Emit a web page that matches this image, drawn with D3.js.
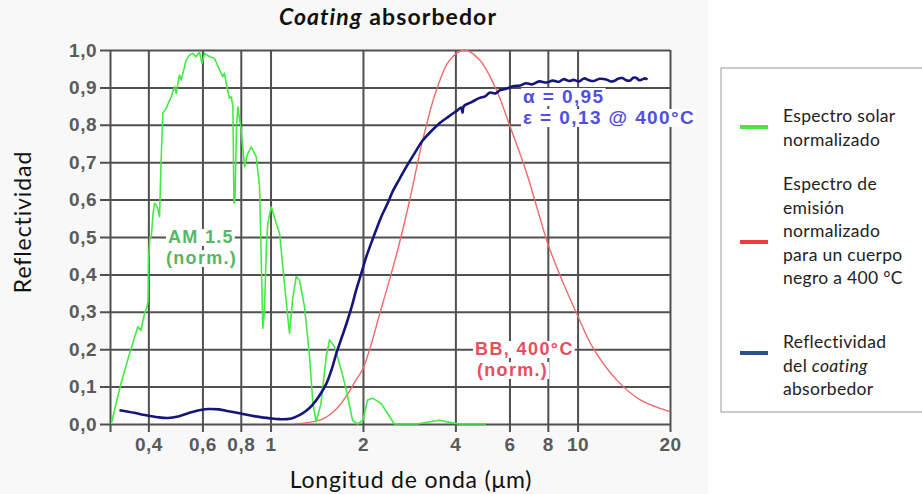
<!DOCTYPE html>
<html><head><meta charset="utf-8">
<script src="https://cdn.jsdelivr.net/npm/d3@7"></script>
<style>
body{margin:0;background:#fff;}
svg{display:block;}
</style></head>
<body>
<svg id="chart" width="922" height="494"></svg>
<script>
// ---- data ----
const solarSpectrum = [
 [0.303,0],[0.315,0.06],[0.326,0.109],[0.345,0.18],[0.360,0.23],[0.370,0.26],[0.378,0.25],[0.389,0.296],[0.395,0.31],[0.399,0.327],
 [0.401,0.45],[0.405,0.50],[0.409,0.50],[0.414,0.56],[0.419,0.59],[0.425,0.585],[0.430,0.572],[0.435,0.554],[0.440,0.70],[0.446,0.831],
 [0.457,0.844],[0.466,0.86],[0.475,0.875],[0.481,0.89],[0.487,0.902],[0.493,0.884],[0.505,0.933],[0.512,0.92],[0.531,0.973],[0.545,0.987],
 [0.558,0.991],[0.572,0.982],[0.587,0.995],[0.598,0.964],[0.610,0.991],[0.633,0.982],[0.657,0.978],[0.682,0.947],[0.699,0.929],[0.708,0.938],
 [0.717,0.911],[0.735,0.871],[0.745,0.875],[0.754,0.848],[0.760,0.59],[0.766,0.60],[0.775,0.80],[0.783,0.848],[0.792,0.817],[0.800,0.795],
 [0.812,0.74],[0.823,0.688],[0.84,0.72],[0.865,0.741],[0.898,0.715],[0.921,0.635],[0.935,0.40],[0.944,0.256],[0.955,0.30],[0.97,0.48],
 [0.98,0.537],[1.005,0.581],[1.043,0.537],[1.07,0.51],[1.11,0.376],[1.14,0.28],[1.153,0.243],[1.18,0.332],[1.212,0.394],[1.243,0.385],
 [1.29,0.314],[1.34,0.18],[1.374,0.055],[1.408,0.006],[1.46,0.055],[1.518,0.18],[1.556,0.225],[1.615,0.207],[1.70,0.144],[1.765,0.091],
 [1.85,0.01],[1.92,0],[2.0,0.01],[2.07,0.064],[2.15,0.069],[2.29,0.055],[2.44,0.02],[2.53,0],[3.0,0],[3.3,0.006],[3.55,0.01],[3.8,0.005],
 [4.1,0],[5.03,0]
];
const blackbody400 = [
 [1.2,0.001],[1.3,0.003],[1.39,0.007],[1.5,0.016],[1.6,0.032],[1.68,0.05],[1.8,0.085],[1.9,0.118],[2.0,0.148],[2.13,0.215],
 [2.26,0.29],[2.43,0.38],[2.6,0.468],[2.84,0.599],[3.13,0.759],[3.47,0.893],[3.83,0.973],[4.28,1.0],[4.8,0.973],[5.44,0.893],
 [6.0,0.80],[6.8,0.675],[7.52,0.555],[8.0,0.482],[9.0,0.375],[9.9,0.298],[11.2,0.205],[13.4,0.118],[15.9,0.066],[20,0.033]
];
const coatingReflectivity = [
 [0.322,0.037],[0.36,0.030],[0.39,0.024],[0.43,0.018],[0.463,0.016],[0.50,0.020],[0.54,0.029],[0.58,0.036],[0.625,0.040],[0.68,0.039],
 [0.73,0.034],[0.80,0.028],[0.87,0.022],[0.95,0.017],[1.0,0.015],[1.07,0.013],[1.13,0.013],[1.19,0.017],[1.25,0.025],[1.31,0.036],
 [1.37,0.051],[1.44,0.075],[1.52,0.108],[1.58,0.145],[1.64,0.19],[1.70,0.228],[1.77,0.27],[1.84,0.315],[1.90,0.358],[1.97,0.40],
 [2.05,0.447],[2.13,0.485],[2.21,0.52],[2.30,0.556],[2.40,0.588],[2.50,0.622],[2.63,0.655],[2.78,0.69],[2.95,0.725],[3.13,0.758],
 [3.33,0.782],[3.55,0.804],[3.8,0.822],[4.05,0.838],[4.18,0.846],[4.22,0.832],[4.26,0.85],[4.5,0.860],[4.8,0.872],[5.0,0.876],
 [5.17,0.886],[5.4,0.884],[5.6,0.893],[5.9,0.897],[6.15,0.903],[6.5,0.905],[6.8,0.911],[7.1,0.908],[7.5,0.916],[7.9,0.913],
 [8.3,0.918],[8.7,0.915],[9.0,0.922],[9.4,0.917],[9.7,0.920],[10.1,0.916],[10.5,0.924],[10.9,0.919],[11.3,0.917],[11.8,0.923],
 [12.4,0.921],[12.8,0.916],[13.2,0.918],[13.6,0.924],[14.0,0.925],[14.4,0.919],[14.8,0.918],[15.2,0.926],[15.5,0.926],[15.9,0.919],
 [16.2,0.921],[16.6,0.924],[16.9,0.921]
];
const xTickValues = [0.3,0.4,0.6,0.8,1,2,4,6,8,10,20];
const xTickLabels = ["","0,4","0,6","0,8","1","2","4","6","8","10","20"];
const yTickValues = [0,0.1,0.2,0.3,0.4,0.5,0.6,0.7,0.8,0.9,1.0];
const yTickLabels = ["0,0","0,1","0,2","0,3","0,4","0,5","0,6","0,7","0,8","0,9","1,0"];
const legendItems = [
 {color:"#4fe04f", lines:[["Espectro solar"],["normalizado"]]},
 {color:"#f03c3c", lines:[["Espectro de"],["emisión"],["normalizado"],["para un cuerpo"],["negro a 400 °C"]]},
 {color:"#2c4f92", lines:[["Reflectividad"],["del ",["coating"]],["absorbedor"]]}
];

// ---- layout ----
const svg = d3.select("#chart");
const L = 110, R = 670, T = 50, B = 424;
const x = d3.scaleLog().domain([0.3,20]).range([L,R]);
const y = d3.scaleLinear().domain([0,1]).range([B,T]);

svg.append("rect").attr("x",0).attr("y",0).attr("width",708).attr("height",494).attr("fill","#f8f8f8");
svg.append("rect").attr("x",L).attr("y",T).attr("width",R-L).attr("height",B-T).attr("fill","#fff");

const gridColor = "#505050";
const tickFont = "Liberation Sans, Arial, sans-serif";
// y axis with grid
const ya = svg.append("g").attr("transform",`translate(${L-10},0)`)
  .call(d3.axisLeft(y).tickValues(yTickValues).tickSize(-(R-L+10)).tickPadding(3)
    .tickFormat((d,i)=>yTickLabels[i]));
ya.select(".domain").remove();
ya.selectAll(".tick line").attr("stroke",gridColor).attr("stroke-width",2);
ya.selectAll(".tick text").attr("font-family",tickFont)
  .attr("font-size",19).attr("fill","#5a5a5a").attr("font-weight","bold").attr("letter-spacing",0.5);

// x axis with grid
const xa = svg.append("g").attr("transform",`translate(0,${T})`)
  .call(d3.axisBottom(x).tickValues(xTickValues).tickSize(B-T+8).tickPadding(6)
    .tickFormat((d,i)=>xTickLabels[i]));
xa.select(".domain").remove();
xa.selectAll(".tick line").attr("stroke",gridColor).attr("stroke-width",2);
xa.selectAll(".tick text").attr("font-family",tickFont)
  .attr("font-size",19).attr("fill","#5a5a5a").attr("font-weight","bold").attr("letter-spacing",0.5);

// curves
const lineLin = d3.line().x(d=>x(d[0])).y(d=>y(d[1]));
const lineSmooth = d3.line().x(d=>x(d[0])).y(d=>y(d[1])).curve(d3.curveCatmullRom);
svg.append("clipPath").attr("id","pc").append("rect")
  .attr("x",L).attr("y",T-3).attr("width",R-L+2).attr("height",B-T+6);
const plot = svg.append("g").attr("clip-path","url(#pc)");
plot.append("path").datum(blackbody400).attr("d",lineSmooth).attr("fill","none")
  .attr("stroke","#f06a6a").attr("stroke-width",1.4);
plot.append("path").datum(solarSpectrum).attr("d",lineLin).attr("fill","none")
  .attr("stroke","#44ea44").attr("stroke-width",1.6).attr("stroke-linejoin","round");
plot.append("path").datum(coatingReflectivity).attr("d",lineSmooth).attr("fill","none")
  .attr("stroke","#16167a").attr("stroke-width",2.6).attr("stroke-linejoin","round");

// annotations with white background boxes
function ann(txt, ax, ay, color, size, ls){
  const g = svg.append("g");
  const t = g.append("text").attr("x",ax).attr("y",ay).text(txt)
    .attr("font-family",tickFont).attr("font-size",size).attr("font-weight","bold")
    .attr("letter-spacing",ls).attr("fill",color);
  const bb = t.node().getBBox();
  g.insert("rect","text").attr("x",bb.x-2).attr("y",bb.y+2).attr("width",bb.width+3).attr("height",bb.height-3)
    .attr("fill","#fff");
}
ann("AM 1.5", 168, 243, "#55b765", 18, 1.3);
ann("(norm.)", 166, 264, "#55b765", 18, 1.3);
ann("BB, 400°C", 475, 355, "#ea4d60", 18, 1.4);
ann("(norm.)", 477, 376, "#ea4d60", 18, 1.3);
ann("α = 0,95", 523, 103, "#5050e0", 19, 1.4);
ann("ε = 0,13 @ 400°C", 523, 124, "#5050e0", 19, 1.4);

// titles
const titleFont = "Lato, 'Open Sans', sans-serif";
const title = svg.append("text").attr("x",388).attr("y",25).attr("text-anchor","middle")
  .attr("font-family",titleFont).attr("font-size",23).attr("font-weight","bold")
  .attr("letter-spacing",1.1).attr("fill","#111");
title.append("tspan").attr("font-style","italic").text("Coating");
title.append("tspan").text(" absorbedor");

svg.append("text").attr("transform","translate(31,222) rotate(-90)").attr("text-anchor","middle")
  .attr("font-family",titleFont).attr("font-size",23).attr("letter-spacing",0.9).attr("fill","#111").text("Reflectividad");
svg.append("text").attr("x",411).attr("y",488).attr("text-anchor","middle")
  .attr("font-family",titleFont).attr("font-size",23).attr("letter-spacing",0.8).attr("fill","#111").text("Longitud de onda (μm)");

// legend
svg.append("rect").attr("x",721).attr("y",68).attr("width",210).attr("height",344)
  .attr("fill","#fff").attr("stroke","#9a9a9a").attr("stroke-width",1);
const legendLineY = [127, 242, 353];
const legendTextTop = [122, 190, 348];
legendItems.forEach((it,i)=>{
  svg.append("line").attr("x1",740).attr("x2",768).attr("y1",legendLineY[i]).attr("y2",legendLineY[i])
    .attr("stroke",it.color).attr("stroke-width",4);
  it.lines.forEach((ln,j)=>{
    const t = svg.append("text").attr("x",783).attr("y",legendTextTop[i]+j*23.5)
      .attr("font-family",titleFont).attr("font-size",17.5).attr("letter-spacing",0.3).attr("fill","#222");
    ln.forEach(part=>{
      if(Array.isArray(part)) t.append("tspan").attr("font-style","italic").text(part[0]);
      else t.append("tspan").text(part);
    });
  });
});
</script>
</body></html>
